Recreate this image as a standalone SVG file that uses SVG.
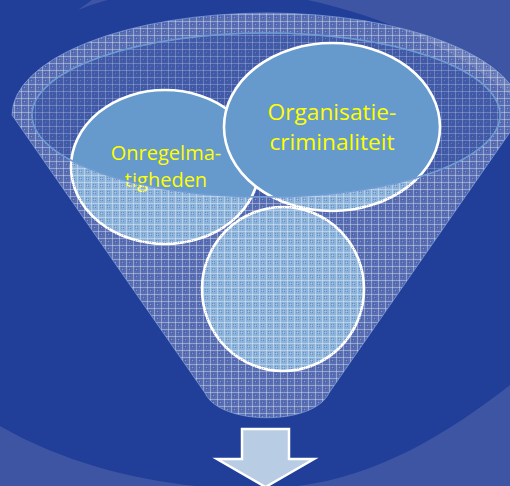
<svg xmlns="http://www.w3.org/2000/svg" width="510" height="486" viewBox="0 0 510 486">
  <defs>
    <pattern id="pat" patternUnits="userSpaceOnUse" width="7" height="7">
      <rect width="7" height="7" fill="#fff" fill-opacity="0.25"/>
      <rect width="7" height="1" fill="#fff" fill-opacity="0.35"/>
      <rect width="1" height="7" fill="#fff" fill-opacity="0.35"/>
      <rect x="2" y="2" width="1" height="1" fill="#213E99" fill-opacity="0.35"/>
      <rect x="4" y="4" width="1" height="1" fill="#213E99" fill-opacity="0.35"/>
      <rect x="4" y="2" width="1" height="1" fill="#213E99" fill-opacity="0.25"/>
      <rect x="2" y="4" width="1" height="1" fill="#213E99" fill-opacity="0.25"/>
      <rect x="3" y="3" width="1" height="1" fill="#fff" fill-opacity="0.3"/>
    </pattern>
    <pattern id="patIn" patternUnits="userSpaceOnUse" width="7" height="7">
      <rect width="7" height="7" fill="#fff" fill-opacity="0.15"/>
      <rect width="7" height="1" fill="#fff" fill-opacity="0.22"/>
      <rect width="1" height="7" fill="#fff" fill-opacity="0.22"/>
      <rect x="2" y="2" width="1" height="1" fill="#213E99" fill-opacity="0.3"/>
      <rect x="4" y="4" width="1" height="1" fill="#213E99" fill-opacity="0.3"/>
      <rect x="3" y="3" width="1" height="1" fill="#fff" fill-opacity="0.2"/>
    </pattern>
    <style>
      .node { fill: #6699CC; stroke: #FFFFFF; stroke-width: 2.6; }
      .lbl { font-family: "Open Sans", "Liberation Sans", sans-serif; fill: #FFFF00; text-anchor: middle; }
    </style>
  </defs>

  <g id="background">
    <rect width="510" height="486" fill="#213E99"/>
    <path d="M78,10 L92,0 L510,0 L510,95 C400,0 200,-40 78,10 Z" fill="#3E55A4"/>
    <path d="M0,426 C90,478 200,492 270,488 C360,486 440,440 510,385 L510,486 L0,486 Z" fill="#3E55A4"/>
  </g>

  <g id="funnel-back">
    <ellipse cx="266" cy="115" rx="234" ry="82" fill="url(#patIn)"/>
  </g>

  <g id="nodes">
    <g id="node-onregelmatigheden">
      <ellipse class="node" cx="165" cy="167" rx="94" ry="77"/>
      <text class="lbl" font-size="20" x="166" y="160">Onregelma-<tspan x="166" y="187">tigheden</tspan></text>
    </g>
    <g id="node-organisatiecriminaliteit">
      <ellipse class="node" cx="332" cy="127" rx="108" ry="84"/>
      <text class="lbl" font-size="22.7" x="332" y="120">Organisatie-<tspan x="332" y="150">criminaliteit</tspan></text>
    </g>
    <g id="node-empty">
      <ellipse class="node" cx="283" cy="289" rx="81" ry="82"/>
    </g>
  </g>

  <g id="funnel-front">
    <path fill="url(#pat)" fill-rule="evenodd" stroke="#8EB0E2" stroke-opacity="0.6" stroke-width="1"
      d="M12,115 A255,102 0 0 1 522,115 L329,393 C314,426 220,426 205,393 Z
         M32,115 A234,82 0 0 0 500,115 A234,82 0 0 0 32,115 Z"/>
    <ellipse cx="266" cy="115" rx="234" ry="82" fill="none" stroke="#6E9BD3" stroke-width="1.5"/>
  </g>

  <g id="connectors">
    <path d="M242,429 L289,429 L289,459 L314,459 L265.5,487 L217,459 L242,459 Z" fill="#B8CCE4" stroke="#FFFFFF" stroke-width="2.5" stroke-linejoin="miter"/>
  </g>
</svg>
